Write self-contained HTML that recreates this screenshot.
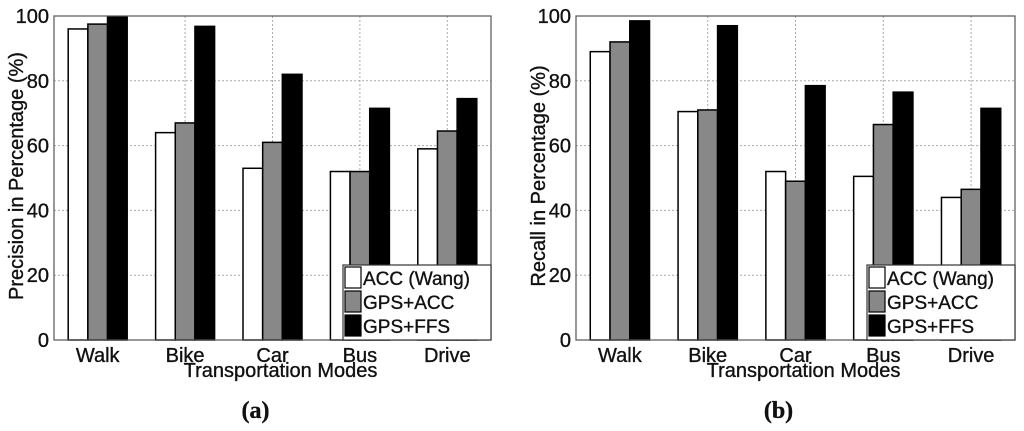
<!DOCTYPE html>
<html><head><meta charset="utf-8"><style>
body{margin:0;background:#fff;}
svg{display:block;font-family:"Liberation Sans",Arial,sans-serif;}
svg text{stroke:#111;stroke-width:0.35;}
</style></head><body>
<svg id="svg" width="1024" height="431"></svg>
<script>
const categories=["Walk","Bike","Car","Bus","Drive"];
const seriesNames=["ACC (Wang)","GPS+ACC","GPS+FFS"];
const precWang=[96,64,53,52,59];
const precGpsAcc=[97.5,67,61,52,64.5];
const precGpsFfs=[99.8,96.8,82,71.5,74.5];
const recWang=[89,70.5,52,50.5,44];
const recGpsAcc=[92,71,49,66.5,46.5];
const recGpsFfs=[98.5,97,78.5,76.5,71.5];
const yTicks=[0,20,40,60,80,100];
const fills=["#fff","#888","#000"];
const NS="http://www.w3.org/2000/svg";
const svg=document.getElementById('svg');
function mk(tag,attrs,parent,text){const e=document.createElementNS(NS,tag);for(const k in attrs)e.setAttribute(k,attrs[k]);if(text!==undefined)e.textContent=text;(parent||svg).appendChild(e);return e;}
function chart(cfg){
  const g=mk('g',{});
  
  
  const L=cfg.left,R=cfg.right,T=16,B=340;
  const y=v=>B-(v/100)*(B-T);
  const step=(R-L)/categories.length;
  const x=i=>L+step*(i+0.5);
  const bw=step*0.225;
  yTicks.forEach(t=>{
    if(t>0&&t<100){const l=mk('line',{x1:L,x2:R,y1:y(t),y2:y(t),stroke:'#aaa','stroke-dasharray':'2,2','stroke-width':1},g);
    }
    const tx=mk('text',{x:L-5,y:y(t)+7,'text-anchor':'end','font-size':20,fill:'#111'},g,String(t));
    
  });
  categories.forEach((c,i)=>{
    if(i>0){const l=mk('line',{x1:x(i),x2:x(i),y1:T,y2:B,stroke:'#aaa','stroke-dasharray':'2,2','stroke-width':1},g);
    }
    const tx=mk('text',{x:x(i),y:362,'text-anchor':'middle','font-size':20,fill:'#111'},g,c);
    
  });
  cfg.series.forEach((arr,s)=>{
    arr.forEach((v,i)=>{
      const bx=x(i)+(s-1.5)*bw;
      const r=mk('rect',{x:bx,y:y(v),width:bw,height:B-y(v),fill:fills[s],stroke:'#000','stroke-width':1.5},g);
      
      
    });
  });
  const fr=mk('rect',{x:L,y:T,width:R-L,height:B-T,fill:'none',stroke:'#555','stroke-width':1.2},g);
  
  const lg=mk('g',{},g);
  
  mk('rect',{x:R-148,y:265,width:148,height:75,fill:'#fff',stroke:'#333','stroke-width':1.2},lg);
  seriesNames.forEach((n,s)=>{
    const ry=267+s*24;
    mk('rect',{x:R-146,y:ry,width:16,height:21,fill:fills[s],stroke:'#000','stroke-width':1.2},lg);
    const t=mk('text',{x:R-128,y:ry+18,'font-size':19,fill:'#111'},lg,n);
    
  });
  const xt=mk('text',{x:(L+R)/2+8,y:377,'text-anchor':'middle','font-size':20,fill:'#111'},g,'Transportation Modes');
  
  const yt=mk('text',{x:0,y:0,'text-anchor':'middle','font-size':20,fill:'#111',transform:`translate(${L-31},${(T+B)/2-2}) rotate(-90)`},g,cfg.ylabel);
  
  const cap=mk('text',{x:(L+R)/2-17,y:418,'text-anchor':'middle','font-size':24,'font-family':'"Liberation Serif",serif','font-weight':'bold',fill:'#111'},g);
  
  cap.textContent=cfg.cap;
}
chart({name:'precision-chart',left:54,right:491,series:[precWang,precGpsAcc,precGpsFfs],ylabel:'Precision in Percentage (%)',cap:'(a)'});
chart({name:'recall-chart',left:576,right:1015,series:[recWang,recGpsAcc,recGpsFfs],ylabel:'Recall in Percentage (%)',cap:'(b)'});
</script>
</body></html>
